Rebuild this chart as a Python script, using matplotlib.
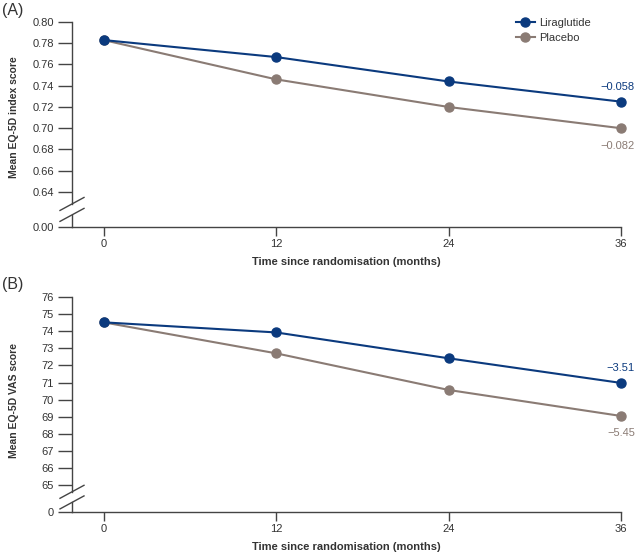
import matplotlib
matplotlib.use("Agg")
import matplotlib.pyplot as plt
import matplotlib.transforms as mtransforms

plt.rcParams['font.family'] = ['Liberation Sans', 'DejaVu Sans']

months = [0, 12, 24, 36]
xtick_labels = ['0', '12', '24', '36']

# panel A: EQ-5D index
lira_index = [0.783, 0.767, 0.744, 0.725]
plac_index = [0.783, 0.746, 0.720, 0.700]
index_ticks = [0.64, 0.66, 0.68, 0.70, 0.72, 0.74, 0.76, 0.78, 0.80]
index_change = ['\u22120.058', '\u22120.082']

# panel B: EQ-5D VAS
lira_vas = [74.52, 73.93, 72.42, 70.98]
plac_vas = [74.52, 72.71, 70.57, 69.05]
vas_ticks = [65, 66, 67, 68, 69, 70, 71, 72, 73, 74, 75, 76]
vas_change = ['\u22123.51', '\u22125.45']

blue = '#0b3a7e'
brown = '#8a7b74'
axis_col = '#444444'
text_col = '#333333'

fig = plt.figure(figsize=(6.36, 5.53), dpi=100)
W, H = 636, 553


def make_axes(left, top, right, bottom):
    return fig.add_axes([left / W, 1 - bottom / H, (right - left) / W, (bottom - top) / H])


def draw_panel(ax, lira, plac, ticks, zero_pos, zero_label, top, gap, changes, ylabel, ylab_y, tag):
    ax.plot(months, lira, color=blue, lw=1.5, marker='o', ms=6.5, label='Liraglutide', clip_on=False, zorder=4)
    ax.plot(months, plac, color=brown, lw=1.5, marker='o', ms=6.5, label='Placebo', clip_on=False, zorder=3)
    ax.set_xlim(-2.2, 36)
    ax.set_ylim(zero_pos, top)
    ax.set_xticks(months)
    ax.set_xticklabels(xtick_labels)
    ax.set_yticks([zero_pos] + ticks)
    fmt = '{:.2f}' if isinstance(ticks[0], float) else '{:d}'
    ax.set_yticklabels([zero_label] + [fmt.format(t) for t in ticks])
    for s in ['top', 'right']:
        ax.spines[s].set_visible(False)
    for s in ['left', 'bottom']:
        ax.spines[s].set_color(axis_col)
        ax.spines[s].set_linewidth(1.0)
    ax.spines['bottom'].set_bounds(-2.2, 36)
    ax.spines['left'].set_bounds(gap[1], top)
    ax.plot([-2.2, -2.2], [zero_pos, gap[0]], color=axis_col, lw=1.0, clip_on=False)
    ax.tick_params(axis='y', length=10, width=1.0, color=axis_col, labelsize=8, labelcolor=text_col, pad=3)
    ax.tick_params(axis='x', length=6.5, width=1.0, color=axis_col, labelsize=8, labelcolor=text_col, pad=2)
    ax.set_xlabel('Time since randomisation (months)', fontsize=8, fontweight='bold', color=text_col, labelpad=6)
    ax.set_ylabel(ylabel, fontsize=7.5, fontweight='bold', color=text_col)
    ax.yaxis.set_label_coords(-53 / ax.get_window_extent().width, ylab_y)

    # axis break marks
    bb = ax.get_window_extent()
    tr = mtransforms.blended_transform_factory(ax.transAxes, ax.transData)
    dx = 12.0 / bb.width
    ymid = (gap[0] + gap[1]) / 2
    dy = (top - zero_pos) * 6.5 / bb.height
    off = (gap[1] - gap[0]) * 0.5
    for k in (-1, 1):
        yc = ymid + k * off
        ax.plot([-dx, dx], [yc - dy, yc + dy], transform=tr, color=axis_col, lw=1.0, clip_on=False)

    # change from baseline at 36 months
    ax.annotate(changes[0], (months[-1], lira[-1]), xytext=(10, 7), textcoords='offset points',
                ha='right', va='bottom', fontsize=8, color=blue)
    ax.annotate(changes[1], (months[-1], plac[-1]), xytext=(10, -9), textcoords='offset points',
                ha='right', va='top', fontsize=8, color=brown)
    fig.text(2 / W, ax.get_position().y1 + 12 / H, tag, fontsize=11.5, color=text_col, va='center', ha='left')


axA = make_axes(72, 22, 621, 227)
draw_panel(axA, lira_index, plac_index, index_ticks, 0.607, '0.00', 0.80, (0.6184, 0.6287),
           index_change, 'Mean EQ-5D index score', 0.535, '(A)')
axA.legend(loc='upper left', bbox_to_anchor=(0.79, 1.07), frameon=False, fontsize=8,
           handlelength=1.7, handletextpad=0.4, labelspacing=0.45, labelcolor=text_col)

axB = make_axes(72, 297, 621, 512)
draw_panel(axB, lira_vas, plac_vas, vas_ticks, 63.44, '0', 76, (64.0, 64.62),
           vas_change, 'Mean EQ-5D VAS score', 0.52, '(B)')

fig.savefig('out.png', dpi=100)
